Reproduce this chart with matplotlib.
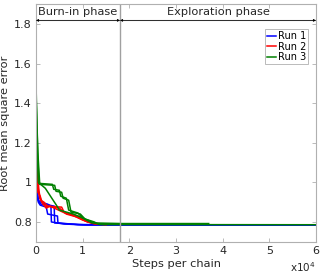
import numpy as np
import matplotlib
matplotlib.use("Agg")
import matplotlib.pyplot as plt
from matplotlib.ticker import FuncFormatter

### donnees (pas en x = nombre de pas par chaine)

run1_x = [[0, 300, 500, 1000, 2500, 3200, 3300, 6000, 10000, 60000],
          [0, 300, 600, 1100, 2800, 3900, 4000, 7000, 11000, 60000],
          [0, 200, 500, 900, 2200, 2500, 4600, 4700, 9000, 60000]]
run1_y = [[1.0, 0.95, 0.91, 0.90, 0.89, 0.88, 0.80, 0.79, 0.785, 0.785],
          [0.99, 0.94, 0.90, 0.89, 0.885, 0.88, 0.795, 0.79, 0.785, 0.785],
          [0.98, 0.93, 0.90, 0.885, 0.875, 0.84, 0.83, 0.795, 0.787, 0.785]]

run2_x = [[0, 200, 500, 800, 1500, 2000, 5500, 6000, 8200, 10000, 12100, 15000],
          [0, 250, 600, 1000, 1700, 2500, 5000, 6500, 8800, 10500, 12500, 15000],
          [0, 150, 400, 900, 1300, 2200, 3000, 6200, 9000, 11000, 13000, 15000]]
run2_y = [[1.35, 1.12, 0.97, 0.92, 0.89, 0.88, 0.875, 0.85, 0.83, 0.81, 0.795, 0.788],
          [1.32, 1.10, 0.96, 0.91, 0.90, 0.88, 0.87, 0.84, 0.825, 0.805, 0.79, 0.787],
          [1.30, 1.08, 0.95, 0.93, 0.90, 0.87, 0.88, 0.845, 0.83, 0.80, 0.79, 0.787]]

run3_x = [[0, 300, 600, 3500, 3800, 5000, 5300, 6500, 7000, 9000, 10000, 12000, 13000, 37000],
          [0, 400, 800, 4000, 4300, 5500, 5800, 7000, 7500, 9500, 10500, 12500, 13500, 60000],
          [0, 500, 1000, 2000, 4500, 5000, 8000, 10000, 12000, 20000]]
run3_y = [[1.50, 1.20, 0.995, 0.99, 0.965, 0.96, 0.93, 0.92, 0.86, 0.845, 0.82, 0.80, 0.792, 0.792],
          [1.45, 1.15, 0.99, 0.985, 0.955, 0.95, 0.92, 0.91, 0.85, 0.84, 0.815, 0.80, 0.787, 0.786],
          [1.30, 1.00, 0.99, 0.97, 0.88, 0.86, 0.84, 0.82, 0.795, 0.79]]

noms = ["Run 1", "Run 2", "Run 3"]
couleurs = ["blue", "red", "green"]

fin_burnin = 18000
x_max = 60000

### figure

plt.rcParams["font.family"] = "DejaVu Sans"
fig = plt.figure(figsize=(3.2, 2.76), dpi=100)
ax = fig.add_axes([0.1125, 0.124, 0.875, 0.861])

gris = "#262626"
for xs, ys, c, nom in zip([run1_x, run2_x, run3_x], [run1_y, run2_y, run3_y], couleurs, noms):
    for i in range(len(xs)):
        ax.plot(xs[i], ys[i], color=c, lw=1.1, label=nom if i == 0 else None)

ax.axvline(fin_burnin, color="#a0a0a0", lw=1.0)
ax.axhline(1.818, color="#a0a0a0", lw=0.8, zorder=0)
for a, b in [(0, fin_burnin), (fin_burnin, x_max)]:
    ax.annotate("", xy=(a, 1.818), xytext=(b, 1.818),
                arrowprops=dict(arrowstyle="<|-|>", color="k", lw=0.5,
                                mutation_scale=3.5, shrinkA=0, shrinkB=0))
ax.text(fin_burnin / 2, 1.862, "Burn-in phase", ha="center", va="center",
        fontsize=8.2, color=gris)
ax.text((fin_burnin + x_max) / 2, 1.862, "Exploration phase", ha="center",
        va="center", fontsize=8.2, color=gris)

ax.set_xlim(0, x_max)
ax.set_ylim(0.7, 1.9)
ax.set_xticks([0, 10000, 20000, 30000, 40000, 50000, 60000])
ax.set_yticks([0.8, 1.0, 1.2, 1.4, 1.6, 1.8])
ax.xaxis.set_major_formatter(FuncFormatter(lambda v, p: "%g" % (v / 1e4)))
ax.yaxis.set_major_formatter(FuncFormatter(lambda v, p: "%g" % v))
ax.tick_params(direction="in", top=True, right=True, length=3, width=0.6,
               color="#b0b0b0", labelsize=8, labelcolor=gris, pad=3)
for s in ax.spines.values():
    s.set_color("#b0b0b0")
    s.set_linewidth(0.8)

ax.set_xlabel("Steps per chain", fontsize=8.2, color=gris, labelpad=2)
ax.set_ylabel("Root mean square error", fontsize=8.2, color=gris, labelpad=3)
fig.text(316 / 320, 1 - 274 / 276, r"x10$^{4}$", ha="right", va="bottom",
         fontsize=7.5, color=gris)

leg = ax.legend(loc="upper right", bbox_to_anchor=(0.972, 0.895), fontsize=7,
                handlelength=0.9, handletextpad=0.2, borderpad=0.2,
                labelspacing=0.05, borderaxespad=0, fancybox=False, framealpha=1)
leg.get_frame().set_edgecolor("#b0b0b0")
leg.get_frame().set_linewidth(0.6)

plt.savefig("out.png", dpi=100)
